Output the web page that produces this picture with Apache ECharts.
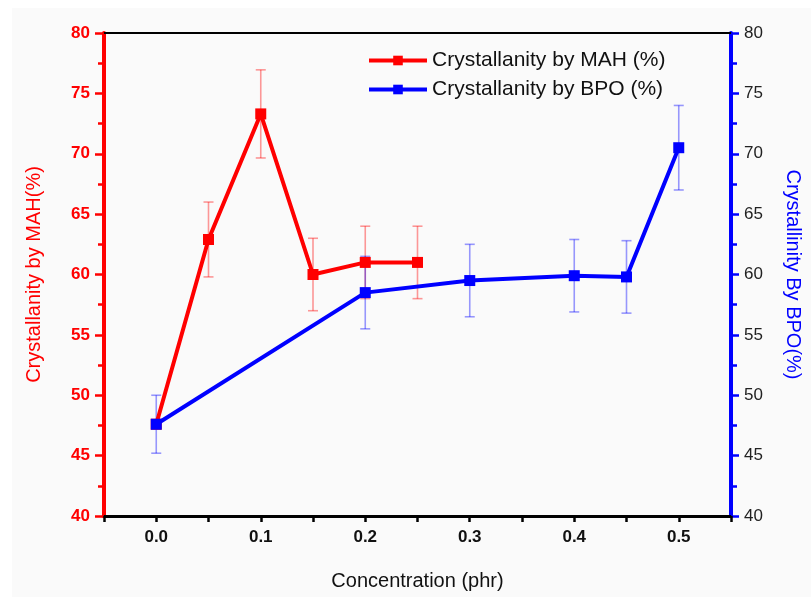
<!DOCTYPE html>
<html>
<head>
<meta charset="utf-8">
<script src="https://cdn.jsdelivr.net/npm/echarts@6/dist/echarts.min.js"></script>
<style>
html,body{margin:0;padding:0;background:#ffffff;}
#c{width:811px;height:597px;}
</style>
</head>
<body>
<div id="c"></div>
<script>
// Data
const mahX = [0.0, 0.05, 0.10, 0.15, 0.20, 0.25];
const mahY = [47.6, 62.9, 73.3, 60.0, 61.0, 61.0];
const mahErr = [0, 3.1, 3.65, 3.0, 3.0, 3.0];

const bpoX = [0.0, 0.20, 0.30, 0.40, 0.45, 0.50];
const bpoY = [47.6, 58.5, 59.5, 59.9, 59.8, 70.5];
const bpoErr = [2.4, 3.0, 3.0, 3.0, 3.0, 3.5];

const xTickLabels = ['0.0', '0.1', '0.2', '0.3', '0.4', '0.5'];
const yTickValues = [40, 45, 50, 55, 60, 65, 70, 75, 80];

const mahName = 'Crystallanity by MAH (%)';
const bpoName = 'Crystallanity by BPO (%)';

const RED = '#ff0000';
const BLUE = '#0000ff';
const FONT = 'Liberation Sans, Arial, sans-serif';

function pairs(xs, ys) { return xs.map((x, i) => [x, ys[i]]); }
function errRows(xs, ys, es) {
  return xs.map((x, i) => [x, ys[i] - es[i], ys[i] + es[i]]).filter((r, i) => es[i] > 0);
}

function errorRender(color) {
  return function (params, api) {
    const x = api.value(0);
    const lo = api.coord([x, api.value(1)]);
    const hi = api.coord([x, api.value(2)]);
    const cap = 5;
    const style = { stroke: color, lineWidth: 1.6 };
    return {
      type: 'group',
      children: [
        { type: 'line', shape: { x1: lo[0], y1: lo[1], x2: hi[0], y2: hi[1] }, style: style },
        { type: 'line', shape: { x1: lo[0] - cap, y1: lo[1], x2: lo[0] + cap, y2: lo[1] }, style: style },
        { type: 'line', shape: { x1: hi[0] - cap, y1: hi[1], x2: hi[0] + cap, y2: hi[1] }, style: style }
      ]
    };
  };
}

const chart = echarts.init(document.getElementById('c'));
chart.setOption({
  backgroundColor: 'transparent',
  animation: false,
  graphic: [{
    type: 'rect', left: 12, top: 8, z: -10,
    shape: { width: 799, height: 589 },
    style: { fill: '#fafafa' }
  }],
  grid: { left: 104, right: 78, top: 33, bottom: 81, containLabel: false },
  legend: {
    left: 362, top: 45, orient: 'vertical', itemGap: 8,
    itemWidth: 58, itemHeight: 12,
    lineStyle: { width: 4 },
    textStyle: { fontFamily: FONT, fontSize: 21, color: '#111' },
    data: [mahName, bpoName]
  },
  xAxis: [{
    type: 'value', min: -0.05, max: 0.55, interval: 0.05,
    position: 'bottom',
    name: 'Concentration (phr)', nameLocation: 'middle', nameGap: 55,
    nameTextStyle: { fontFamily: FONT, fontSize: 20, color: '#111' },
    axisLine: { onZero: false, lineStyle: { color: '#000', width: 3 } },
    axisTick: { show: true, inside: false, length: 6, lineStyle: { color: '#000', width: 2.5 } },
    axisLabel: {
      fontFamily: FONT, fontSize: 17, fontWeight: 'bold', color: '#111', margin: 13,
      formatter: function (v) {
        const k = Math.round(v * 100);
        if (k < 0 || k % 10 !== 0) return '';
        return xTickLabels[k / 10] || '';
      }
    },
    splitLine: { show: false }
  }, {
    type: 'value', min: -0.05, max: 0.55, position: 'top',
    axisLine: { onZero: false, lineStyle: { color: '#000', width: 2 } },
    axisTick: { show: false }, axisLabel: { show: false }, splitLine: { show: false }
  }],
  yAxis: [{
    type: 'value', min: 40, max: 80, interval: 5, position: 'left',
    name: 'Crystallanity by MAH(%)', nameLocation: 'middle', nameGap: 60,
    nameTextStyle: { fontFamily: FONT, fontSize: 20, color: RED },
    axisLine: { show: true, onZero: false, lineStyle: { color: RED, width: 4 } },
    axisTick: { show: true, length: 9, lineStyle: { color: RED, width: 2.5 } },
    minorTick: { show: true, splitNumber: 2, length: 6, lineStyle: { color: RED, width: 2.5 } },
    axisLabel: {
      fontFamily: FONT, fontSize: 17, fontWeight: 'bold', color: RED, margin: 14,
      formatter: function (v) { return yTickValues.indexOf(v) >= 0 ? String(v) : ''; }
    },
    splitLine: { show: false }
  }, {
    type: 'value', min: 40, max: 80, interval: 5, position: 'right',
    name: 'Crystallinity By BPO(%)', nameLocation: 'middle', nameGap: 52, nameRotate: -90,
    nameTextStyle: { fontFamily: FONT, fontSize: 20, color: BLUE },
    axisLine: { show: true, onZero: false, lineStyle: { color: BLUE, width: 4 } },
    axisTick: { show: true, length: 8, lineStyle: { color: BLUE, width: 2.5 } },
    minorTick: { show: true, splitNumber: 2, length: 6, lineStyle: { color: BLUE, width: 2.5 } },
    axisLabel: {
      fontFamily: FONT, fontSize: 17, color: '#222', margin: 13,
      formatter: function (v) { return yTickValues.indexOf(v) >= 0 ? String(v) : ''; }
    },
    splitLine: { show: false }
  }],
  series: [{
    type: 'custom', name: 'mahErr', xAxisIndex: 0, yAxisIndex: 0, z: 1,
    renderItem: errorRender('rgba(255,0,0,0.4)'),
    encode: { x: 0, y: [1, 2] },
    data: errRows(mahX, mahY, mahErr)
  }, {
    type: 'custom', name: 'bpoErr', xAxisIndex: 0, yAxisIndex: 1, z: 1,
    renderItem: errorRender('rgba(0,0,255,0.4)'),
    encode: { x: 0, y: [1, 2] },
    data: errRows(bpoX, bpoY, bpoErr)
  }, {
    type: 'line', name: mahName, xAxisIndex: 0, yAxisIndex: 0, z: 3,
    symbol: 'rect', symbolSize: 11, color: RED,
    lineStyle: { color: RED, width: 4 },
    itemStyle: { color: RED },
    data: pairs(mahX, mahY)
  }, {
    type: 'line', name: bpoName, xAxisIndex: 0, yAxisIndex: 1, z: 4,
    symbol: 'rect', symbolSize: 11, color: BLUE,
    lineStyle: { color: BLUE, width: 4 },
    itemStyle: { color: BLUE },
    data: pairs(bpoX, bpoY)
  }]
});
</script>
</body>
</html>
